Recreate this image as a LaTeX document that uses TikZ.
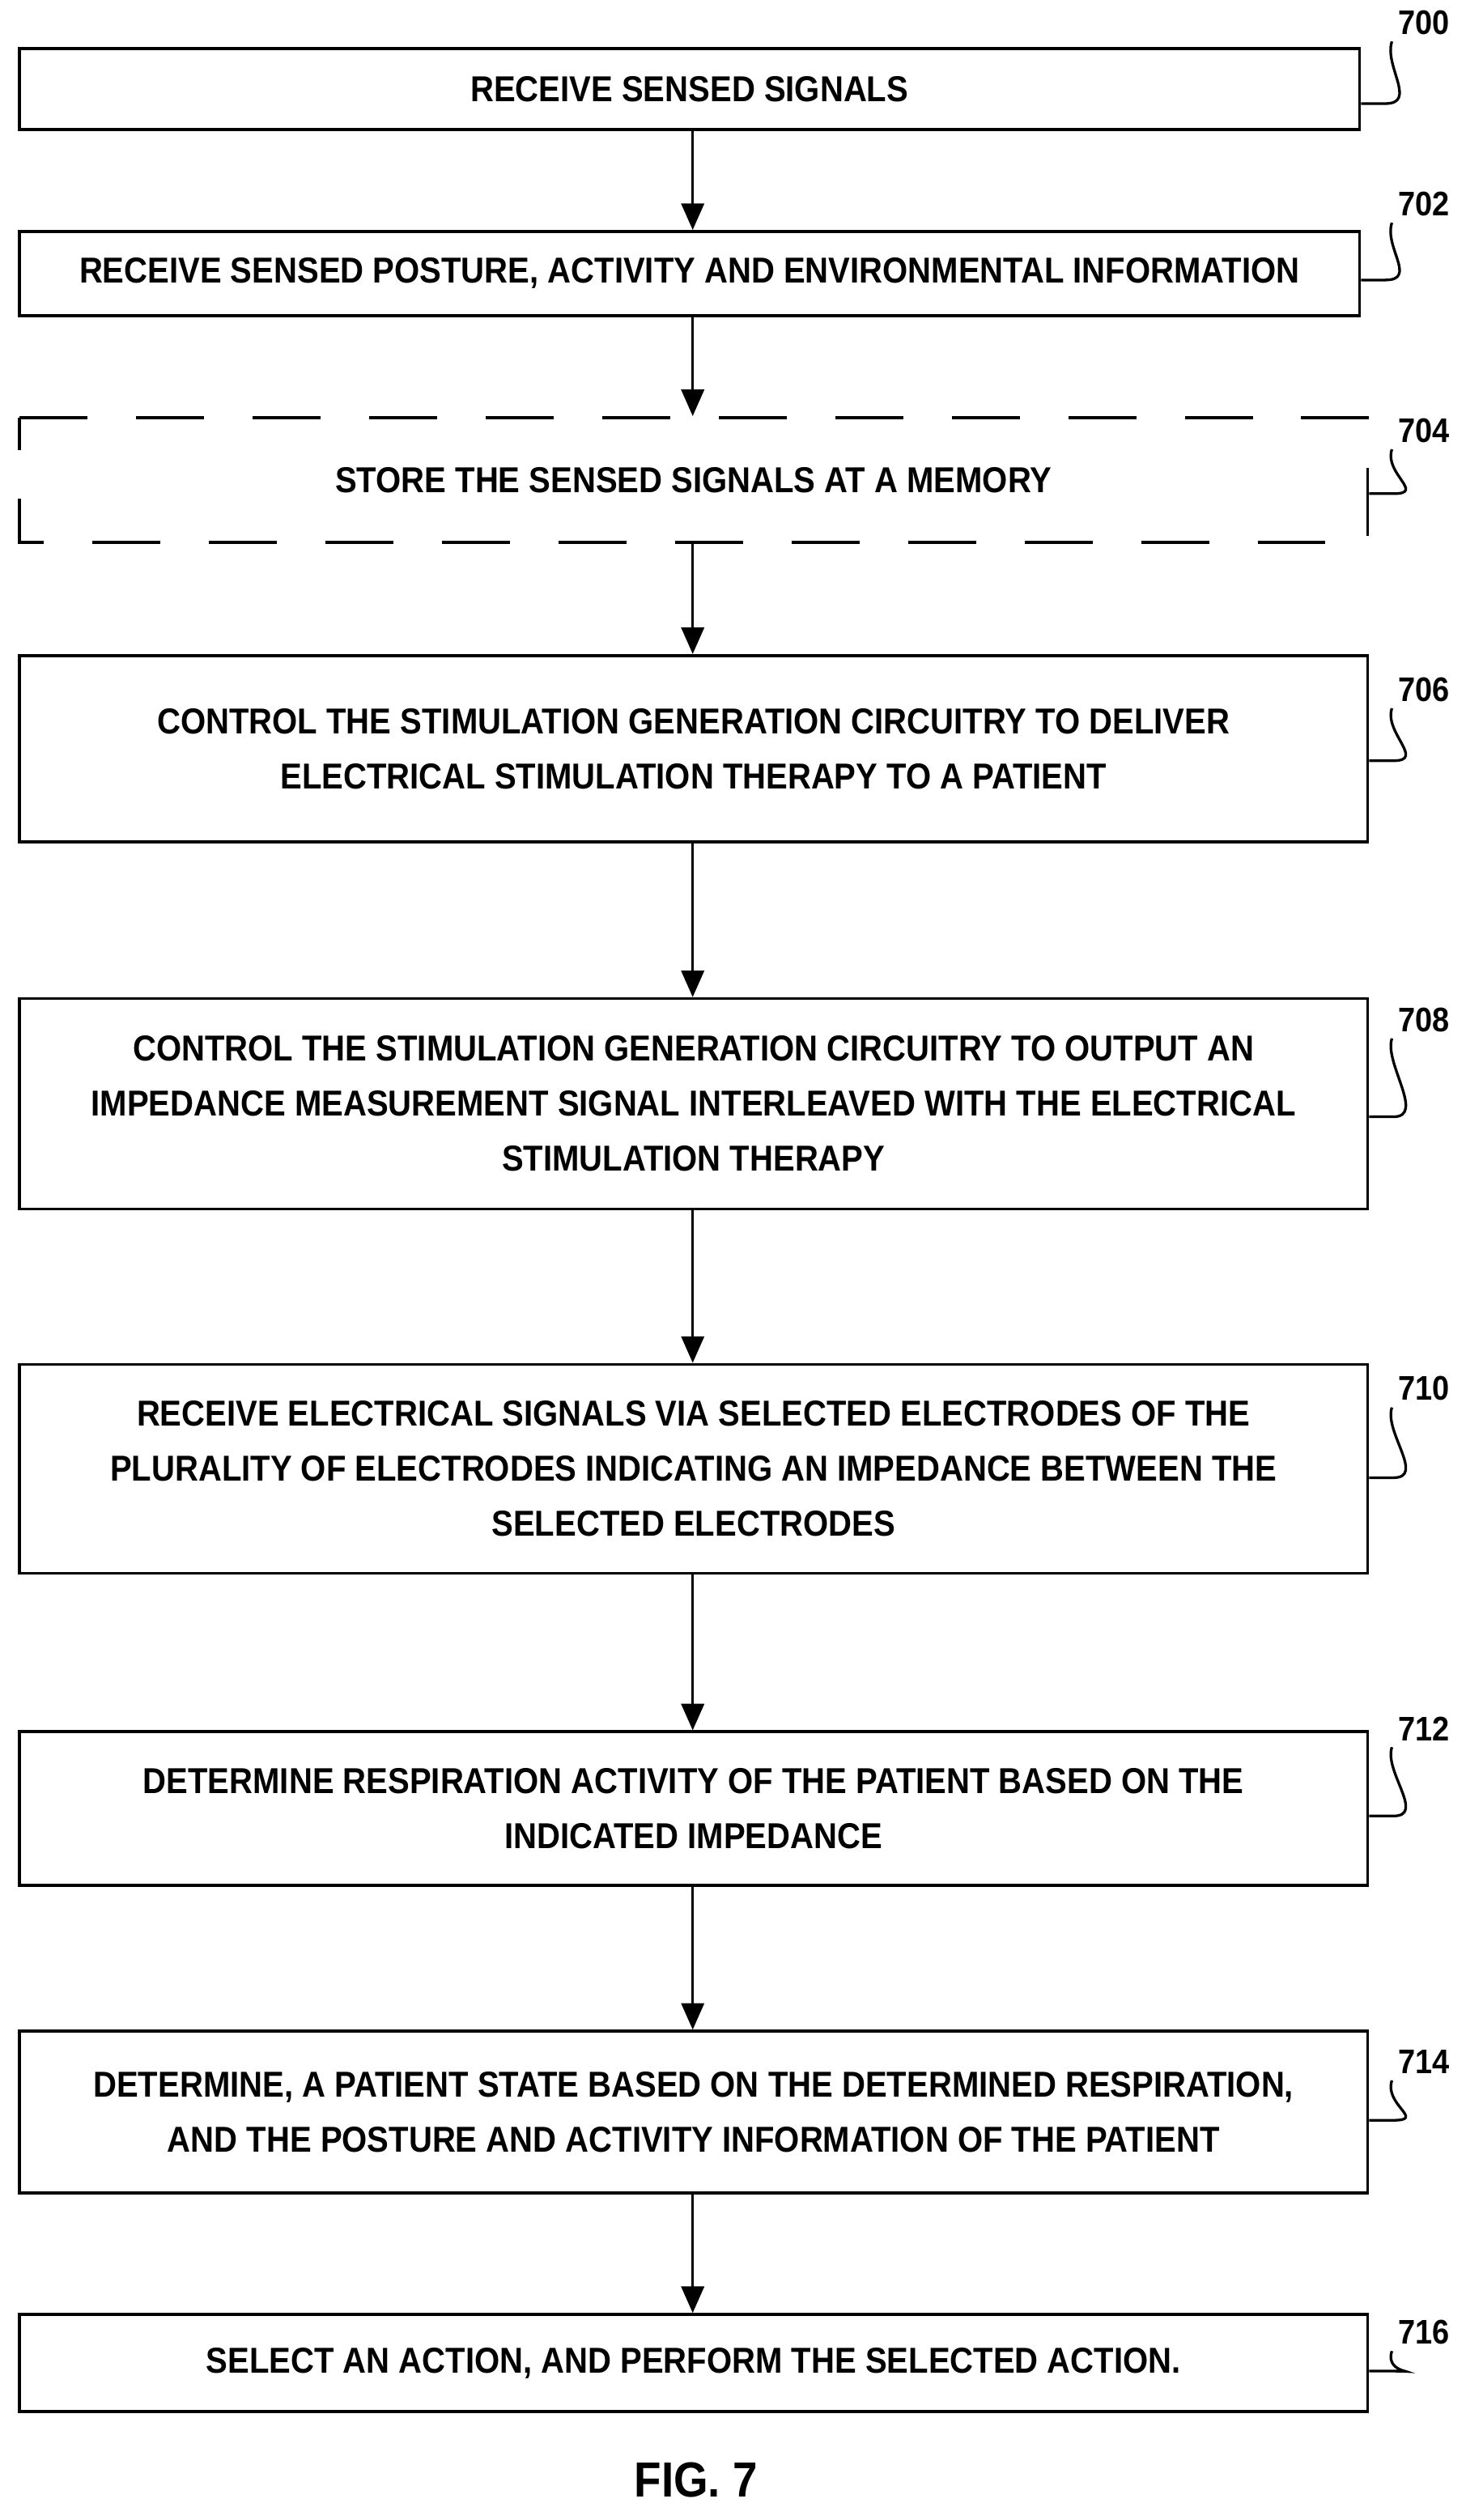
\documentclass[tikz,border=0pt]{standalone}
\usepackage{fontspec}
\setmainfont{Liberation Sans}[FakeStretch=0.9]
\usetikzlibrary{arrows.meta}
\begin{document}
\begin{tikzpicture}[x=0.03cm,y=-0.03cm,
  box/.style={draw,line width=1.6pt,align=center,font=\fontsize{19}{29}\selectfont\bfseries},
  lbl/.style={font=\fontsize{18}{20}\selectfont\bfseries,anchor=west},
  arr/.style={line width=1.4pt,-{Triangle[length=14pt,width=12pt]}},
  lead/.style={line width=1.4pt}]
\useasboundingbox (0,0) rectangle (916,1557);
\node[box,minimum width=828*0.03cm,minimum height=50*0.03cm] (b0) at (426,55) {RECEIVE SENSED SIGNALS};
\node[box,minimum width=828*0.03cm,minimum height=52*0.03cm] (b2) at (426,169) {RECEIVE SENSED POSTURE, ACTIVITY AND ENVIRONMENTAL INFORMATION};
\node[box,draw=none,minimum width=833*0.03cm,minimum height=77*0.03cm] (b4) at (428.5,296.5) {STORE THE SENSED SIGNALS AT A MEMORY};
\draw[line width=1.6pt,dash pattern=on 42*0.03cm off 30*0.03cm] (12,258) -- (845,258) -- (845,335) -- (12,335) -- cycle;
\node[box,minimum width=833*0.03cm,minimum height=115*0.03cm] (b6) at (428.5,462.5) {CONTROL THE STIMULATION GENERATION CIRCUITRY TO DELIVER\\ELECTRICAL STIMULATION THERAPY TO A PATIENT};
\node[box,minimum width=833*0.03cm,minimum height=130*0.03cm] (b8) at (428.5,682) {CONTROL THE STIMULATION GENERATION CIRCUITRY TO OUTPUT AN\\IMPEDANCE MEASUREMENT SIGNAL INTERLEAVED WITH THE ELECTRICAL\\STIMULATION THERAPY};
\node[box,minimum width=833*0.03cm,minimum height=129*0.03cm] (b10) at (428.5,907.5) {RECEIVE ELECTRICAL SIGNALS VIA SELECTED ELECTRODES OF THE\\PLURALITY OF ELECTRODES INDICATING AN IMPEDANCE BETWEEN THE\\SELECTED ELECTRODES};
\node[box,minimum width=833*0.03cm,minimum height=95*0.03cm] (b12) at (428.5,1117.5) {DETERMINE RESPIRATION ACTIVITY OF THE PATIENT BASED ON THE\\INDICATED IMPEDANCE};
\node[box,minimum width=833*0.03cm,minimum height=100*0.03cm] (b14) at (428.5,1305) {DETERMINE, A PATIENT STATE BASED ON THE DETERMINED RESPIRATION,\\AND THE POSTURE AND ACTIVITY INFORMATION OF THE PATIENT};
\node[box,minimum width=833*0.03cm,minimum height=60*0.03cm] (b16) at (428.5,1460) {SELECT AN ACTION, AND PERFORM THE SELECTED ACTION.};
\draw[arr] (b0.south -| 428,0) -- (b2.north -| 428,0);
\draw[arr] (b2.south -| 428,0) -- (b4.north -| 428,0);
\draw[arr] (b4.south -| 428,0) -- (b6.north -| 428,0);
\draw[arr] (b6.south -| 428,0) -- (b8.north -| 428,0);
\draw[arr] (b8.south -| 428,0) -- (b10.north -| 428,0);
\draw[arr] (b10.south -| 428,0) -- (b12.north -| 428,0);
\draw[arr] (b12.south -| 428,0) -- (b14.north -| 428,0);
\draw[arr] (b14.south -| 428,0) -- (b16.north -| 428,0);
\foreach \n/\y/\b/\by in {700/14/b0/64, 702/126/b2/173, 704/266/b4/305, 706/426/b6/470, 708/630/b8/690, 710/858/b10/913, 712/1068/b12/1122, 714/1274/b14/1310, 716/1441/b16/1465}{
  \node[lbl] (l\n) at (860,\y) {\n};
  \draw[lead] (\b.east |- 0,\by) -- ++(15,0) .. controls +(20,0) and +(-5,15) .. (l\n.south west);
}
\node[font=\fontsize{26}{30}\selectfont\bfseries] (fig) at (430,1532) {FIG. 7};
\end{tikzpicture}
\end{document}
